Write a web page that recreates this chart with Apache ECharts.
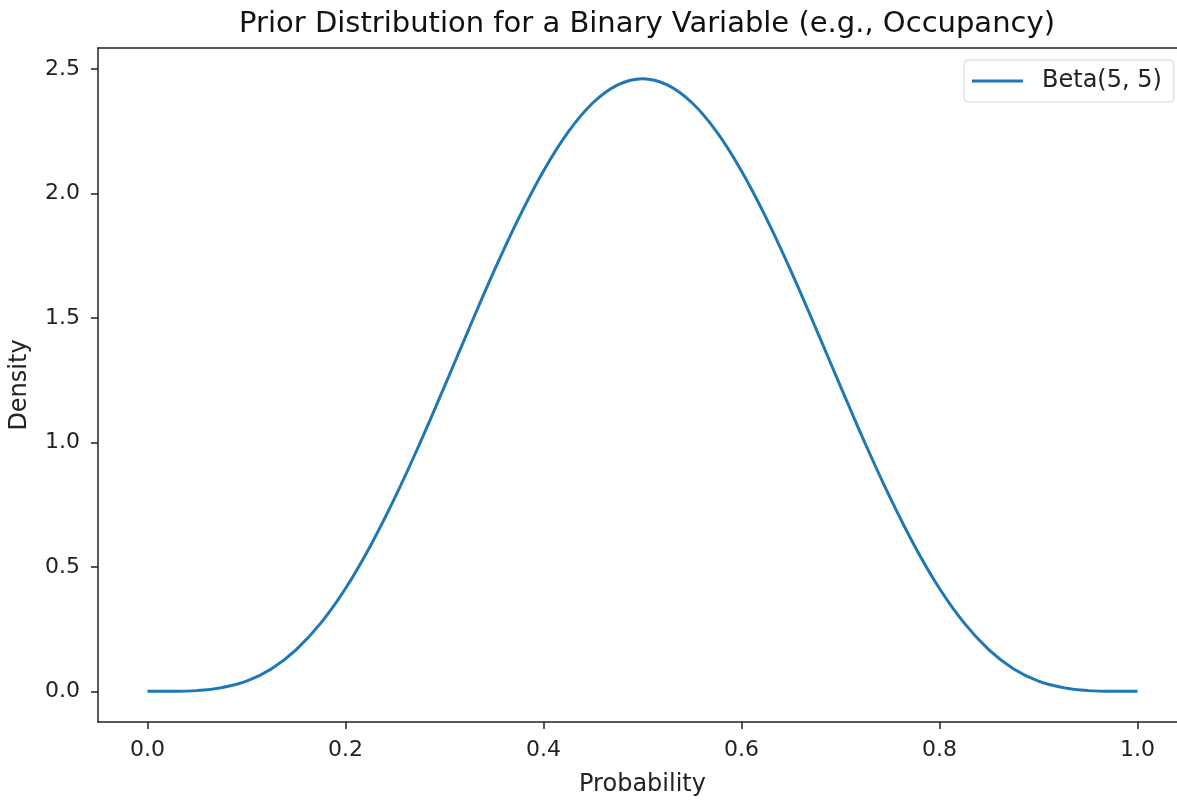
<!DOCTYPE html>
<html>
<head>
<meta charset="utf-8">
<script src="https://cdn.jsdelivr.net/npm/echarts@6/dist/echarts.min.js"></script>
<style>
  html, body { margin: 0; padding: 0; background: #fff; }
  #chart { width: 1177px; height: 800px; }
</style>
</head>
<body>
<div id="chart"></div>
<script>
// Beta(5, 5) density curve sampled on [0, 1]
const probability = [
  0.000, 0.025, 0.050, 0.075, 0.100, 0.125, 0.150, 0.175, 0.200, 0.225,
  0.250, 0.275, 0.300, 0.325, 0.350, 0.375, 0.400, 0.425, 0.450, 0.475,
  0.500, 0.525, 0.550, 0.575, 0.600, 0.625, 0.650, 0.675, 0.700, 0.725,
  0.750, 0.775, 0.800, 0.825, 0.850, 0.875, 0.900, 0.925, 0.950, 0.975,
  1.000
];
const density = [
  0.000, 0.000, 0.003, 0.015, 0.041, 0.090, 0.167, 0.274, 0.413, 0.583,
  0.779, 0.995, 1.225, 1.459, 1.688, 1.901, 2.090, 2.247, 2.364, 2.436,
  2.461, 2.436, 2.364, 2.247, 2.090, 1.901, 1.688, 1.459, 1.225, 0.995,
  0.779, 0.583, 0.413, 0.274, 0.167, 0.090, 0.041, 0.015, 0.003, 0.000,
  0.000
];
const xTicks = [0.0, 0.2, 0.4, 0.6, 0.8, 1.0];
const yTicks = [0.0, 0.5, 1.0, 1.5, 2.0, 2.5];
const seriesName = 'Beta(5, 5)';

const FONT = 'DejaVu Sans';
const INK = '#222';
const X_RANGE = { min: -0.05, max: 1.05 };

const chart = echarts.init(document.getElementById('chart'), null, { renderer: 'canvas' });

chart.setOption({
  animation: false,
  backgroundColor: '#fff',
  title: {
    text: 'Prior Distribution for a Binary Variable (e.g., Occupancy)',
    left: 642,
    top: 5,
    textAlign: 'center',
    textStyle: { fontFamily: FONT, fontSize: 29, fontWeight: 'normal', color: '#111' }
  },
  legend: {
    left: 964,
    top: 60,
    orient: 'vertical',
    icon: 'rect',
    backgroundColor: 'rgba(255,255,255,0.8)',
    borderColor: '#d4d4d4',
    borderWidth: 1,
    borderRadius: 4,
    padding: [9, 12, 9, 8],
    itemWidth: 51,
    itemHeight: 3,
    textStyle: { fontFamily: FONT, fontSize: 24, color: INK, padding: [0, 0, 0, 14] },
    data: [seriesName]
  },
  grid: {
    left: 98,
    right: -10,
    top: 48,
    bottom: 78,
    outerBoundsMode: 'none',
    containLabel: false,
    show: false
  },
  xAxis: [{
    type: 'value',
    min: X_RANGE.min,
    max: X_RANGE.max,
    name: 'Probability',
    nameLocation: 'middle',
    nameGap: 51,
    nameTextStyle: { fontFamily: FONT, fontSize: 24, color: INK },
    axisLine: { show: true, onZero: false, lineStyle: { color: INK, width: 1.5 } },
    axisTick: { show: true, inside: false, length: 7, customValues: xTicks, lineStyle: { color: INK, width: 1.5 } },
    axisLabel: {
      customValues: xTicks,
      margin: 17,
      fontFamily: FONT, fontSize: 22, color: INK,
      formatter: v => v.toFixed(1)
    },
    splitLine: { show: false }
  }, {
    // top frame edge
    type: 'value',
    position: 'top',
    min: X_RANGE.min,
    max: X_RANGE.max,
    axisLine: { show: true, onZero: false, lineStyle: { color: INK, width: 1.5 } },
    axisTick: { show: false },
    axisLabel: { show: false },
    splitLine: { show: false }
  }],
  yAxis: {
    type: 'value',
    min: -0.123,
    max: 2.584,
    name: 'Density',
    nameLocation: 'middle',
    nameGap: 66,
    nameRotate: 90,
    nameTextStyle: { fontFamily: FONT, fontSize: 24, color: INK },
    axisLine: { show: true, onZero: false, lineStyle: { color: INK, width: 1.5 } },
    axisTick: { show: true, inside: false, length: 7, customValues: yTicks, lineStyle: { color: INK, width: 1.5 } },
    axisLabel: {
      customValues: yTicks,
      margin: 18,
      fontFamily: FONT, fontSize: 22, color: INK,
      formatter: v => v.toFixed(1)
    },
    splitLine: { show: false }
  },
  series: [{
    name: seriesName,
    type: 'line',
    xAxisIndex: 0,
    data: probability.map((x, i) => [x, density[i]]),
    symbol: 'none',
    smooth: 0.4,
    lineStyle: { color: '#1f77b4', width: 3 },
    itemStyle: { color: '#1f77b4' }
  }]
});
</script>
</body>
</html>
